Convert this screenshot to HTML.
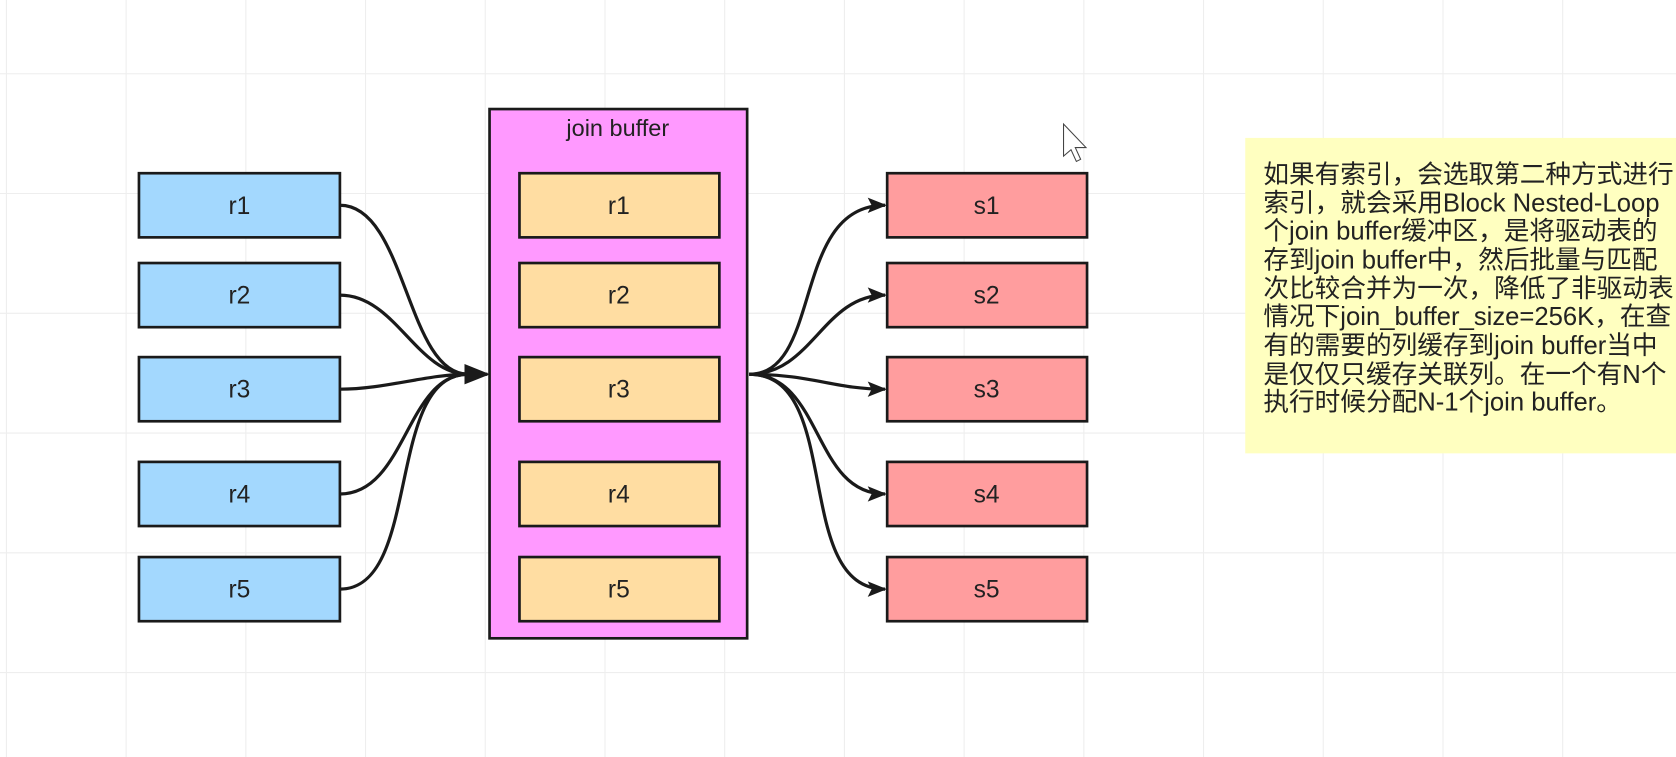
<!DOCTYPE html>
<html><head><meta charset="utf-8"><style>
html,body{margin:0;padding:0;background:#fff;overflow:hidden;}
svg{display:block;}
text{font-family:"Liberation Sans","Noto Sans CJK SC",sans-serif;}
</style></head><body>
<svg width="1676" height="757" viewBox="0 0 1568 708" preserveAspectRatio="none" xmlns="http://www.w3.org/2000/svg">
<defs>
<marker id="a" viewBox="0 0 10 10" refX="9" refY="5" markerWidth="18" markerHeight="18" orient="auto" markerUnits="userSpaceOnUse">
<path d="M0,1 L10,5 L0,9 L2,5 z" fill="#1a1a1a"/></marker>
<marker id="b" viewBox="0 0 10 10" refX="9" refY="5" markerWidth="24" markerHeight="24" orient="auto" markerUnits="userSpaceOnUse">
<path d="M0,1 L10,5 L0,9 z" fill="#1a1a1a"/></marker>
</defs>
<g stroke="#eeeeee" stroke-width="1">
<line x1="6" y1="0" x2="6" y2="708"/><line x1="118" y1="0" x2="118" y2="708"/><line x1="230" y1="0" x2="230" y2="708"/><line x1="342" y1="0" x2="342" y2="708"/><line x1="454" y1="0" x2="454" y2="708"/><line x1="566" y1="0" x2="566" y2="708"/><line x1="678" y1="0" x2="678" y2="708"/><line x1="790" y1="0" x2="790" y2="708"/><line x1="902" y1="0" x2="902" y2="708"/><line x1="1014" y1="0" x2="1014" y2="708"/><line x1="1126" y1="0" x2="1126" y2="708"/><line x1="1238" y1="0" x2="1238" y2="708"/><line x1="1350" y1="0" x2="1350" y2="708"/><line x1="1462" y1="0" x2="1462" y2="708"/>
<line x1="0" y1="69" x2="1568" y2="69"/><line x1="0" y1="181" x2="1568" y2="181"/><line x1="0" y1="293" x2="1568" y2="293"/><line x1="0" y1="405" x2="1568" y2="405"/><line x1="0" y1="517" x2="1568" y2="517"/><line x1="0" y1="629" x2="1568" y2="629"/>
</g>
<rect x="458" y="102" width="241" height="495" fill="#ff99ff" stroke="#1a1a1a" stroke-width="2.5"/>
<text x="578" y="127" font-size="22" text-anchor="middle" fill="#222">join buffer</text>
<g stroke="#1a1a1a" stroke-width="2.5">
<rect x="130" y="162" width="188" height="60" fill="#a3d8fe"/>
<rect x="130" y="246" width="188" height="60" fill="#a3d8fe"/>
<rect x="130" y="334" width="188" height="60" fill="#a3d8fe"/>
<rect x="130" y="432" width="188" height="60" fill="#a3d8fe"/>
<rect x="130" y="521" width="188" height="60" fill="#a3d8fe"/>
<rect x="486" y="162" width="187" height="60" fill="#ffdda2"/>
<rect x="486" y="246" width="187" height="60" fill="#ffdda2"/>
<rect x="486" y="334" width="187" height="60" fill="#ffdda2"/>
<rect x="486" y="432" width="187" height="60" fill="#ffdda2"/>
<rect x="486" y="521" width="187" height="60" fill="#ffdda2"/>
<rect x="830" y="162" width="187" height="60" fill="#ff9d9e"/>
<rect x="830" y="246" width="187" height="60" fill="#ff9d9e"/>
<rect x="830" y="334" width="187" height="60" fill="#ff9d9e"/>
<rect x="830" y="432" width="187" height="60" fill="#ff9d9e"/>
<rect x="830" y="521" width="187" height="60" fill="#ff9d9e"/>
</g>
<g font-size="23" text-anchor="middle" fill="#222">
<text x="224" y="200">r1</text><text x="224" y="284">r2</text><text x="224" y="372">r3</text><text x="224" y="470">r4</text><text x="224" y="559">r5</text>
<text x="579" y="200">r1</text><text x="579" y="284">r2</text><text x="579" y="372">r3</text><text x="579" y="470">r4</text><text x="579" y="559">r5</text>
<text x="923" y="200">s1</text><text x="923" y="284">s2</text><text x="923" y="372">s3</text><text x="923" y="470">s4</text><text x="923" y="559">s5</text>
</g>
<g fill="none" stroke="#1a1a1a" stroke-width="3">
<path d="M318,192 C380,192 380,350 438,350"/>
<path d="M318,276 C370,276 390,350 438,350"/>
<path d="M318,364 C360,364 400,350 438,350"/>
<path d="M318,462 C380,462 380,350 438,350"/>
<path d="M318,551 C395,551 360,350 438,350"/>
<path d="M438,350 L456,350" marker-end="url(#b)"/>
<path d="M701,350 C770,350 740,192 828,192" marker-end="url(#a)"/>
<path d="M701,350 C760,350 770,276 828,276" marker-end="url(#a)"/>
<path d="M701,350 C760,350 780,364 828,364" marker-end="url(#a)"/>
<path d="M701,350 C770,350 760,462 828,462" marker-end="url(#a)"/>
<path d="M701,350 C790,350 740,551 828,551" marker-end="url(#a)"/>
</g>
<path d="M995,116 L995,146 L1002,140 L1007,151 L1011,149 L1006,138 L1016,138 Z" fill="#fff" stroke="#444" stroke-width="1"/>
<rect x="1165" y="129" width="410" height="295" fill="#ffffc0"/>
<g font-size="24" fill="#222">
<text x="1182" y="171">如果有索引，会选取第二种方式进行</text>
<text x="1182" y="198">索引，就会采用Block Nested-Loop</text>
<text x="1182" y="224">个join buffer缓冲区，是将驱动表的</text>
<text x="1182" y="251">存到join buffer中，然后批量与匹配</text>
<text x="1182" y="278">次比较合并为一次，降低了非驱动表</text>
<text x="1182" y="304">情况下join_buffer_size=256K，在查</text>
<text x="1182" y="331">有的需要的列缓存到join buffer当中</text>
<text x="1182" y="358">是仅仅只缓存关联列。在一个有N个</text>
<text x="1182" y="384">执行时候分配N-1个join buffer。</text>
</g>
</svg>
</body></html>
